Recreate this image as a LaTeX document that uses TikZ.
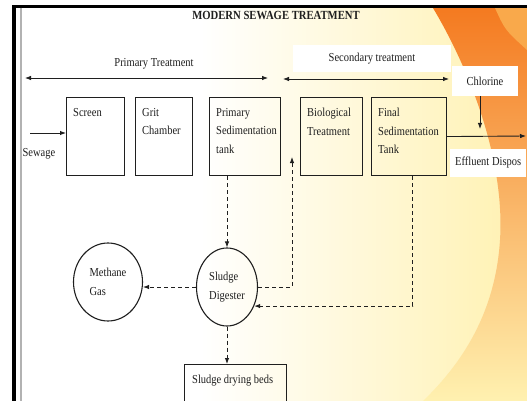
\documentclass[tikz,border=0pt]{standalone}
\usepackage{fontspec}
\setmainfont{Liberation Serif}[FakeStretch=0.86]
\usetikzlibrary{arrows.meta,positioning,calc,shapes.geometric}
\definecolor{swoosh}{HTML}{F47A20}
\definecolor{swooshlight}{HTML}{F9A94B}
\definecolor{paleyellow}{HTML}{FFF1B0}
\definecolor{ink}{gray}{0.12}

\begin{document}
\begin{tikzpicture}[x=1pt, y=-1pt, every node/.style={font=\fontsize{12.2}{18.5}\selectfont, text=ink},
    unit/.style={draw=ink, line width=1.1pt, anchor=north west, minimum height=78, inner sep=0},
    unittext/.style={anchor=north west, align=left, inner sep=0},
    tank/.style={ellipse, draw=ink, line width=1.1pt, inner sep=0, align=left},
    flow/.style={-{Latex[length=6pt,width=4.5pt]}, line width=0.9pt, draw=ink},
    dflow/.style={flow, dash pattern=on 4pt off 3pt},
    span/.style={{Latex[length=6pt,width=4.5pt]}-{Latex[length=6pt,width=4.5pt]}, line width=0.8pt, draw=ink}]
  \useasboundingbox (0,0) rectangle (527,401);
  \clip (0,0) rectangle (527,401);
  \fill[white] (0,0) rectangle (527,401);
  \shade[left color=white, right color=paleyellow] (200,8) rectangle (527,401);
  \shade[top color=swoosh, bottom color=paleyellow] (433,8) .. controls (470,70) and (505,160) .. (500,240) .. controls (495,320) and (455,370) .. (423,401) -- (527,401) -- (527,8) -- cycle;
  \fill[swooshlight] (495,8) .. controls (505,30) .. (527,50) -- (527,8) -- cycle;
  \fill[black] (12,5) rectangle (527,8);
  \fill[black] (12,5) rectangle (16,401);
  \draw[gray!60, line width=1.2pt] (21,8) -- (21,401);

  \node[font=\bfseries\fontsize{12.4}{14}\selectfont] (title) at (276,15) {MODERN SEWAGE TREATMENT};
  \node (primlbl) at (154,64) {Primary Treatment};
  \node[fill=white, minimum width=158, minimum height=27] (seclbl) at (372,59) {Secondary treatment};
  \node[fill=white, minimum width=66, minimum height=30] (chl) at (485,81) {Chlorine};
  \coordinate (pa) at (25,78);
  \coordinate (pb) at (268,78);
  \coordinate (sa) at (283,79);
  \coordinate (sb) at (449,79);
  \draw[span] (pa) -- (pb);
  \draw[span] (sa) -- (sb);

  \foreach \nm/\xl/\bw/\txt in {screen/66/58/Screen, grit/135/57/{Grit\\Chamber}, prim/209/71/{Primary\\Sedimentation\\tank}, bio/300/62/{Biological\\Treatment}, final/371/75/{Final\\Sedimentation\\Tank}}{
    \node[unit, minimum width=\bw] (\nm) at (\xl,97) {};
    \node[unittext] (\nm txt) at ([shift={(7,11)}]\nm.north west) {\txt};
  }

  \node[anchor=west] (sew) at (19,154) {Sewage};
  \coordinate (sewin) at (30,133);
  \draw[flow] (sewin) -- (sewin -| screen.west);

  \node[fill=white, anchor=west, minimum height=28, inner xsep=5] (eff) at (450,163) {Effluent Dispos};
  \coordinate (effend) at (526,136);
  \draw[flow] (final.east) -- (effend);
  \coordinate (chlend) at (480,129);
  \draw[flow] (chlend |- chl.south) -- (chlend);

  \node[tank, minimum width=61, minimum height=78] (dig) at (227,287) {Sludge\\Digester};
  \node[tank, minimum width=69, minimum height=78] (meth) at (108,282) {Methane\\Gas};
  \node[unit, minimum width=102, minimum height=50] (dry) at (184,364) {};
  \node[unittext] (dry txt) at ([shift={(8,11)}]dry.north west) {Sludge drying beds};

  \coordinate (ret) at (292,157);
  \draw[dflow] (dig.north |- prim.south) -- (dig.north);
  \draw[dflow] (dig.west) -- (dig.west -| meth.east);
  \draw[dflow] (dig.east) -| (ret);
  \draw[dflow] ([xshift=3.5]final.south) |- (dig.-35);
  \draw[dflow] (dig.south) -- (dig.south |- dry.north);
\end{tikzpicture}
\end{document}
